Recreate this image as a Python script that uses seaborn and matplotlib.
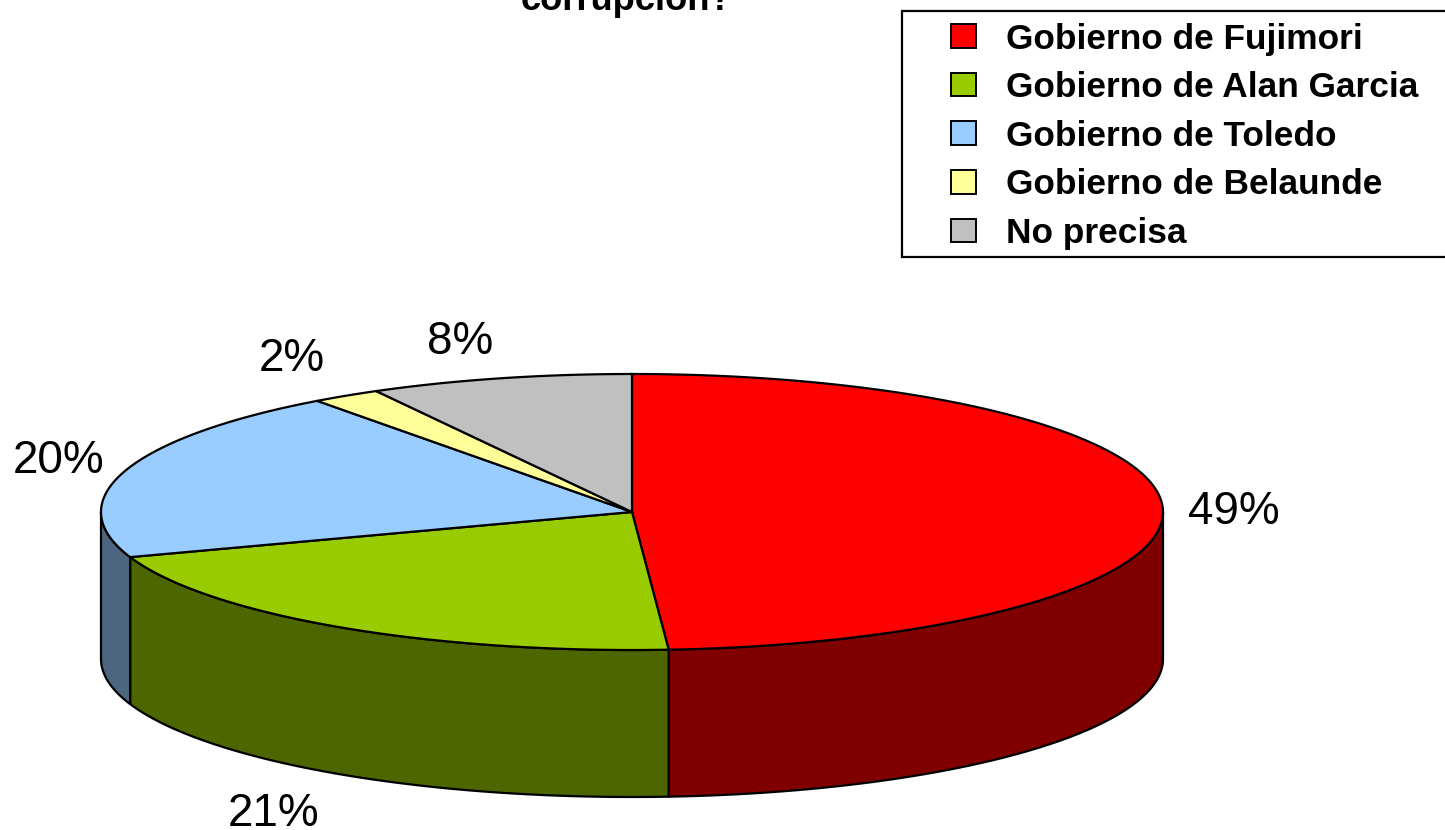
import numpy as np
import matplotlib
matplotlib.use("Agg")
import matplotlib.pyplot as plt
from matplotlib.patches import Patch, Rectangle
import seaborn as sns

labels = ['Gobierno de Fujimori', 'Gobierno de Alan Garcia', 'Gobierno de Toledo',
          'Gobierno de Belaunde', 'No precisa']
values = [48.9, 20.8, 20.2, 2.1, 8.0]
colors = ['#FF0000', '#99CC00', '#99CCFF', '#FFFF99', '#C0C0C0']

sns.set_theme(style="white")
plt.rcParams['font.family'] = ['Liberation Sans', 'DejaVu Sans']
palette = sns.color_palette(colors)

# pie geometry, in figure pixels
cx, cy = 632, 512
rx, ry = 531, 138
depth = 147
# where each percent label sits relative to the rim of its slice
label_offsets = [(71, 5), (-66, 40), (-66, -10), (-54, -37), (-40, -36)]


def rim(t):
    return cx + rx * np.sin(t), cy - ry * np.cos(t)


fig = plt.figure(figsize=(14.45, 8.30), dpi=100)
ax = fig.add_axes([0, 0, 1, 1])
ax.set_xlim(0, 1445)
ax.set_ylim(830, 0)
ax.axis('off')

edges = np.cumsum([0] + values) / sum(values) * 2 * np.pi

# side walls first, only the front half of the rim shows
for i, color in enumerate(palette):
    t0, t1 = max(edges[i], np.pi / 2), min(edges[i + 1], 3 * np.pi / 2)
    if t0 >= t1:
        continue
    t = np.linspace(t0, t1, 120)
    x, y = rim(t)
    xs = np.r_[x, x[::-1]]
    ys = np.r_[y, y[::-1] + depth]
    ax.fill(xs, ys, facecolor=tuple(c * 0.5 for c in color), edgecolor='black', lw=1.6, zorder=2)

# top face
for i, color in enumerate(palette):
    t = np.linspace(edges[i], edges[i + 1], 200)
    x, y = rim(t)
    ax.fill(np.r_[cx, x], np.r_[cy, y], facecolor=color, edgecolor='black', lw=1.6, zorder=3)

for i, v in enumerate(values):
    mid = (edges[i] + edges[i + 1]) / 2
    x, y = rim(mid)
    if np.pi / 2 < mid < 3 * np.pi / 2:
        y += depth
    dx, dy = label_offsets[i]
    ax.text(x + dx, y + dy, f'{v:.0f}%', fontsize=33, color='black', ha='center', va='center', zorder=4)

# title runs off the top of the picture
ax.text(626, 10, 'corrupción?', fontsize=26.2, fontweight='bold', color='black',
        ha='center', va='baseline')

ax.add_patch(Rectangle((902, 11), 560, 246, facecolor='white', edgecolor='black', lw=1.6, zorder=4))
handles = [Patch(facecolor=c, edgecolor='black', lw=1.4, label=l) for c, l in zip(palette, labels)]
leg = ax.legend(handles=handles, loc='upper left', bbox_to_anchor=(940, 12),
                bbox_transform=ax.transData, frameon=False, labelcolor='black',
                prop={'weight': 'bold', 'size': 25.4}, handlelength=0.71, handleheight=0.65,
                handletextpad=0.85, labelspacing=0.44, borderpad=0.3, borderaxespad=0)
leg.set_zorder(5)

fig.savefig('out.png', dpi=100, facecolor='white')
